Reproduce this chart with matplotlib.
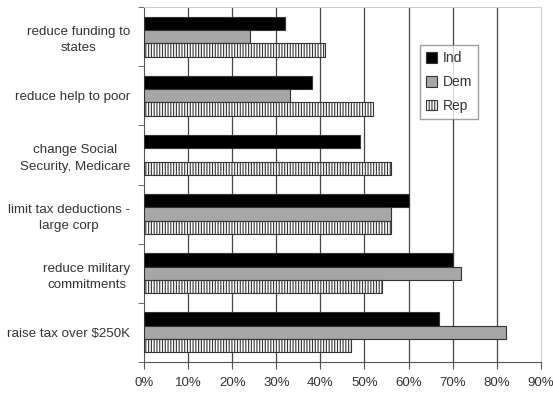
import numpy as np
import matplotlib
matplotlib.use("Agg")
import matplotlib.pyplot as plt
from matplotlib.ticker import FixedLocator, NullFormatter

plt.rcParams['font.family'] = ['Liberation Sans Narrow', 'Liberation Sans', 'DejaVu Sans']
plt.rcParams['hatch.linewidth'] = 0.8

# survey items, top to bottom
categories = [
    "reduce funding to\nstates",
    "reduce help to poor",
    "change Social\nSecurity, Medicare",
    "limit tax deductions -\nlarge corp",
    "reduce military\ncommitments",
    "raise tax over $250K",
]
ind = [32, 38, 49, 60, 70, 67]
dem = [24, 33, np.nan, 56, 72, 82]
rep = [41, 52, 56, 56, 54, 47]
xticks = [0, 10, 20, 30, 40, 50, 60, 70, 80, 90]

text_color = '#333333'

fig = plt.figure(figsize=(5.53, 3.95), dpi=100)
ax = fig.add_axes([0.2604, 0.0835, 0.7176, 0.8985])

y = np.arange(len(categories))
h = 0.225

ax.barh(y - h, ind, height=h, color='black', edgecolor='#333333', linewidth=0.8,
        label='Ind', zorder=3)
ax.barh(y, dem, height=h, color='#a6a6a6', edgecolor='#333333', linewidth=0.8,
        label='Dem', zorder=3)
ax.barh(y + h, rep, height=h, color='white', edgecolor='#333333', linewidth=0.8,
        hatch='||||||', label='Rep', zorder=3)

ax.set_xlim(0, 90)
ax.set_ylim(len(categories) - 0.5, -0.5)

# vertical gridlines at every 10%
for xv in xticks[1:-1]:
    ax.axvline(xv, color='#444444', linewidth=0.9, zorder=1)

ax.set_xticks(xticks)
ax.set_xticklabels([f"{v}%" for v in xticks], fontsize=9.5, color=text_color)
ax.tick_params(axis='x', direction='out', length=5, color='#555555', pad=6)

# category labels centred on groups, tick marks between groups
ax.set_yticks(y)
ax.set_yticklabels(categories, fontsize=9.6, color=text_color, ha='right',
                   multialignment='center')
for t in ax.get_yticklabels():
    t.set_linespacing(1.45)
ax.tick_params(axis='y', which='major', length=0, pad=10)
ax.yaxis.set_minor_locator(FixedLocator(np.arange(-0.5, len(categories), 1)))
ax.yaxis.set_minor_formatter(NullFormatter())
ax.tick_params(axis='y', which='minor', direction='out', length=4, color='#555555')

ax.spines['left'].set_color('#555555')
ax.spines['bottom'].set_color('#555555')
ax.spines['top'].set_color('#cccccc')
ax.spines['right'].set_color('#cccccc')

leg = ax.legend(loc='upper left', bbox_to_anchor=(0.695, 0.893), fontsize=10,
                frameon=True, fancybox=False, edgecolor='#888888',
                handlelength=0.8, handleheight=0.8, labelspacing=0.7,
                handletextpad=0.4, borderpad=0.45, borderaxespad=0)
for t in leg.get_texts():
    t.set_color(text_color)

plt.savefig('out.png', dpi=100, facecolor='white')
plt.close()
